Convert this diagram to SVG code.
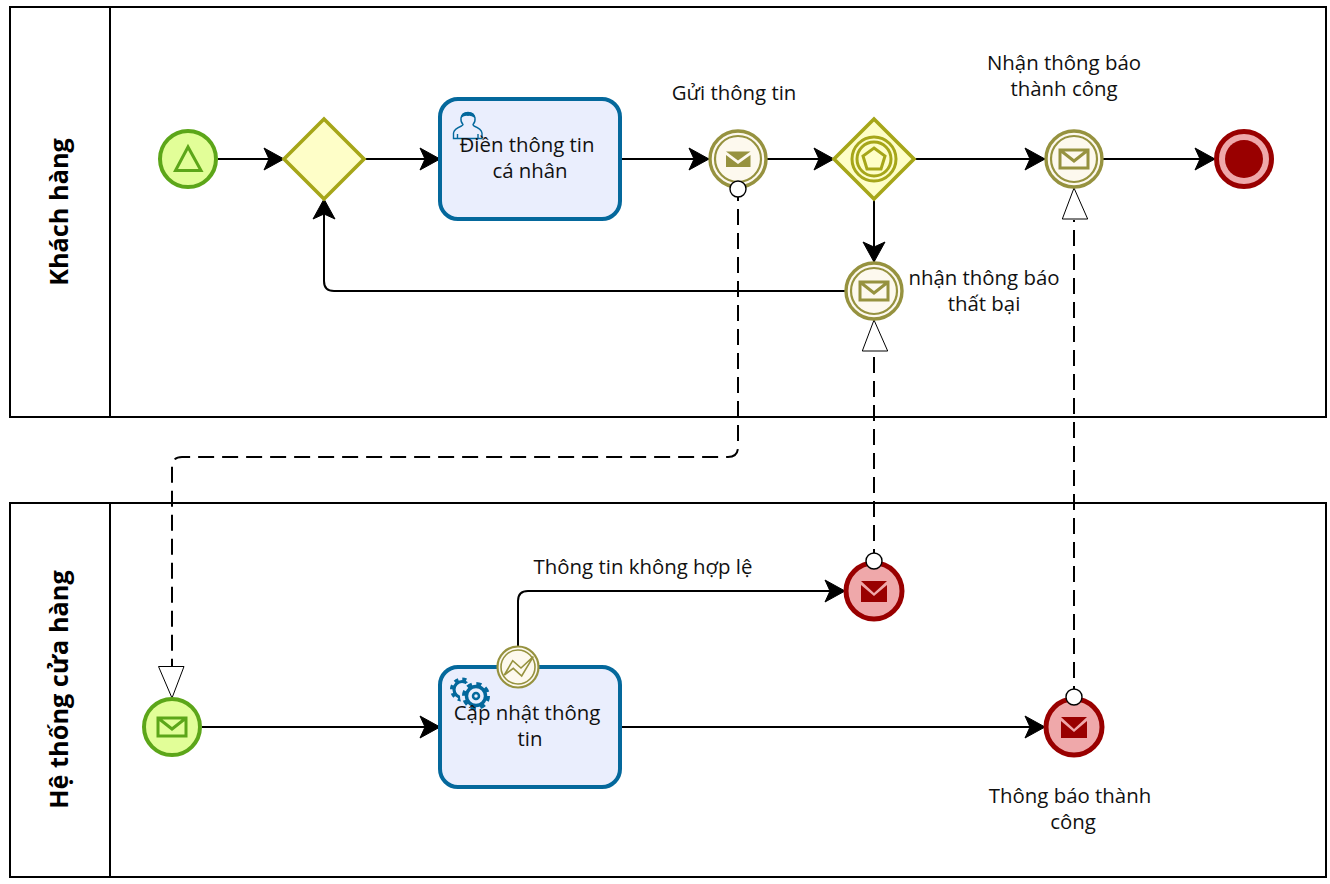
<svg xmlns="http://www.w3.org/2000/svg" width="1330" height="884" viewBox="0 0 1330 884">
<style>
text{font-family:"Open Sans","Noto Sans","DejaVu Sans",sans-serif;font-size:20.4px;fill:#111;text-anchor:middle}
.pool{fill:#fff;stroke:#000;stroke-width:2}
.ptitle{font-weight:700;font-size:25.3px;fill:#000}
.flow{fill:none;stroke:#000;stroke-width:2}
.msg{fill:none;stroke:#000;stroke-width:2;stroke-dasharray:16 8}
.head{fill:#fff;stroke:#000;stroke-width:1}
.dot{fill:#fff;stroke:#000;stroke-width:1.4}
.task{fill:#eaeefd;stroke:#04689c;stroke-width:4}
.start{fill:#e2fe98;stroke:#5ca619;stroke-width:4}
.gw{fill:#fefec8;stroke:#a6a619;stroke-width:3.600;stroke-linejoin:miter}
.gwm{fill:none;stroke:#a6a619;stroke-width:3}
.end{fill:#efa8aa;stroke:#990000;stroke-width:5}
.c1{fill:#fdf9ee;stroke:#96923f;stroke-width:3.400}
.c2{fill:none;stroke:#96923f;stroke-width:2.200}
.env{fill:none;stroke:#96923f;stroke-width:3}
.envf{fill:#96923f}
.user{fill:none;stroke:#04689c;stroke-width:1.4}
</style>
<defs>
<marker id="arr" markerUnits="userSpaceOnUse" markerWidth="24" markerHeight="26" viewBox="0 0 24 26" refX="21" refY="13" orient="auto" overflow="visible">
<path d="M1 2 L21 13 L1 24 L6 13 Z" fill="#000" stroke="#000" stroke-width="1"/>
</marker>
</defs>
<rect width="1330" height="884" fill="#fff"/>
<g id="pool-customer">
<rect class="pool" x="10" y="7" width="1316" height="410"/>
<line class="pool" x1="110" y1="7" x2="110" y2="417"/>
<text class="ptitle" transform="translate(68 212) rotate(-90)">Khách hàng</text>
</g>
<g id="pool-system">
<rect class="pool" x="10" y="503" width="1316" height="374"/>
<line class="pool" x1="110" y1="503" x2="110" y2="877"/>
<text class="ptitle" transform="translate(68 689.500) rotate(-90)">Hệ thống cửa hàng</text>
</g>
<g id="connectors">
<path class="flow" marker-end="url(#arr)" d="M218 159H284"/>
<path class="flow" marker-end="url(#arr)" d="M364 159H440"/>
<path class="flow" marker-end="url(#arr)" d="M620 159H709"/>
<path class="flow" marker-end="url(#arr)" d="M767 159H834"/>
<path class="flow" marker-end="url(#arr)" d="M914 159H1045"/>
<path class="flow" marker-end="url(#arr)" d="M1103 159H1215"/>
<path class="flow" marker-end="url(#arr)" d="M874 199V262"/>
<path class="flow" marker-end="url(#arr)" d="M845 291H334Q324 291 324 281V199"/>
<path class="flow" marker-end="url(#arr)" d="M202 727H440"/>
<path class="flow" marker-end="url(#arr)" d="M620 727H1045"/>
<path class="flow" marker-end="url(#arr)" d="M518 646V601Q518 591 528 591H845"/>
<path class="msg" d="M738 185V447Q738 457 728 457H182Q172 457 172 467V666"/>
<path class="head" d="M158.500 666.500H184L172 698Z"/>
<path class="msg" d="M874 565V351"/>
<path class="head" d="M862.300 351H887.700L874 320Z"/>
<path class="msg" d="M1074 702V220"/>
<path class="head" d="M1062.300 219H1087.700L1074 188Z"/>
</g>
<g id="start-1">
<circle class="start" cx="188" cy="159" r="28"/>
<path d="M188 147L175.500 170.500H201Z" fill="none" stroke="#5ca619" stroke-width="3"/>
</g>
<g id="gateway-1"><path class="gw" d="M324 119L364 159L324 199L284 159Z"/></g>
<g id="task-fill">
<rect class="task" x="440" y="99" width="180" height="120" rx="18"/>
<path class="user" d="M453.500 138.500V133Q454 129 461.500 126Q463 125 463 124.500Q460.500 122 461 118Q462 112.500 468 112.500Q474 112.500 475 118Q475.500 122 473 124.500Q473 125 474 126Q481.500 129 482 133V138.500ZM457.500 134V138.500M478 134V138.500"/>
<path d="M461 118Q461.500 112 468 112Q474.500 112 475 118Q470 115 468 116Q465 115 461 118Z" fill="#04689c"/>
<text x="527" y="152">Điền thông tin</text>
<text x="530" y="178">cá nhân</text>
</g>
<g id="catch-send">
<circle class="c1" cx="738" cy="159" r="28"/>
<circle class="c2" cx="738" cy="159" r="23"/>
<path class="envf" d="M726 155V167H750.500V155L738 164Z"/>
<path class="envf" d="M726 151.500H750.500L738 160.500Z"/>
<text x="734" y="100">Gửi thông tin</text>
</g>
<g id="gateway-event">
<path class="gw" d="M874 119L914 159L874 199L834 159Z"/>
<circle class="gwm" cx="874" cy="159" r="22"/>
<circle class="gwm" cx="874" cy="159" r="17"/>
<path class="gwm" d="M874 148L885 156L881 169H867L863 156Z"/>
</g>
<g id="catch-success">
<circle class="c1" cx="1074" cy="159" r="28"/>
<circle class="c2" cx="1074" cy="159" r="23"/>
<path class="env" d="M1060 150H1088V168H1060ZM1060 150L1074 161L1088 150"/>
<text x="1064" y="70">Nhận thông báo</text>
<text x="1064" y="96">thành công</text>
</g>
<g id="end-1">
<circle cx="1244" cy="159" r="27.500" fill="#efa8aa" stroke="#990000" stroke-width="5"/>
<circle cx="1244" cy="159" r="19" fill="#990000"/>
</g>
<g id="catch-fail">
<circle class="c1" cx="874" cy="291" r="28"/>
<circle class="c2" cx="874" cy="291" r="23"/>
<path class="env" d="M860 282H888V300H860ZM860 282L874 293L888 282"/>
<text x="984" y="285">nhận thông báo</text>
<text x="984" y="311">thất bại</text>
</g>
<g id="start-2">
<circle class="start" cx="172" cy="727" r="28"/>
<path d="M158 718H186V736H158ZM158 718L172 729L186 718" fill="none" stroke="#5ca619" stroke-width="3"/>
</g>
<g id="task-update">
<rect class="task" x="440" y="667" width="180" height="120" rx="18"/>
<circle cx="462" cy="689.500" r="8" fill="none" stroke="#04689c" stroke-width="3.200"/>
<circle cx="462" cy="689.500" r="10" fill="none" stroke="#04689c" stroke-width="4" stroke-dasharray="4 3.850"/>
<circle cx="476" cy="696" r="16" fill="#eaeefd"/>
<circle cx="476" cy="696" r="9.500" fill="none" stroke="#04689c" stroke-width="3.400"/>
<circle cx="476" cy="696" r="12" fill="none" stroke="#04689c" stroke-width="4" stroke-dasharray="5 4.420"/>
<circle cx="476" cy="696" r="3" fill="none" stroke="#04689c" stroke-width="2.500"/>
<text x="527" y="720">Cập nhật thông</text>
<text x="530" y="746">tin</text>
</g>
<g id="boundary-error">
<circle cx="518" cy="667" r="20.500" fill="#fdf9ee" stroke="#96923f" stroke-width="2.200"/>
<circle cx="518" cy="667" r="17" fill="none" stroke="#96923f" stroke-width="1.600"/>
<path d="M504.300 675L512.700 660.700L521 668L533.300 656.700L521.700 676L513.300 668.300Z" fill="none" stroke="#96923f" stroke-width="1.600"/>
<text x="643" y="574">Thông tin không hợp lệ</text>
</g>
<g id="end-fail">
<circle class="end" cx="874" cy="591" r="28"/>
<path d="M861 581H887L874 593Z M861 585V602H887V585L874 596Z" fill="#990000"/>
</g>
<g id="end-success">
<circle class="end" cx="1074" cy="727" r="28"/>
<path d="M1061 717H1087L1074 729Z M1061 721V738H1087V721L1074 732Z" fill="#990000"/>
<text x="1070" y="803">Thông báo thành</text>
<text x="1073" y="829">công</text>
</g>
<circle class="dot" cx="738" cy="189" r="8"/>
<circle class="dot" cx="874" cy="561" r="8"/>
<circle class="dot" cx="1074" cy="697" r="8"/>
</svg>
